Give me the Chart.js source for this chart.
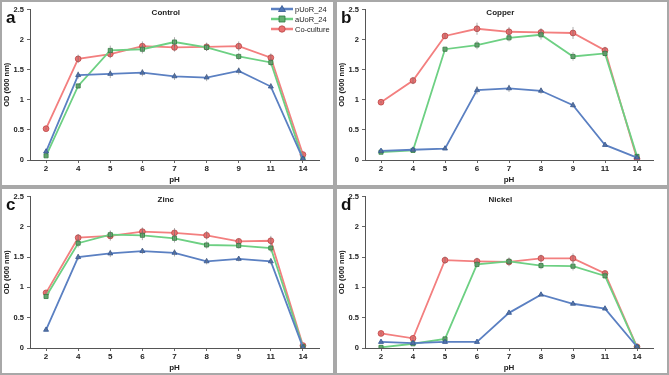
<!DOCTYPE html>
<html>
<head>
<meta charset="utf-8">
<script src="https://cdn.jsdelivr.net/npm/chart.js@4.4.1/dist/chart.umd.min.js"></script>
<style>
  body { margin: 0; background: #fff; }
  #wrap { position: relative; width: 669px; height: 375px; overflow: hidden; }
  .panel { position: absolute; box-sizing: border-box; border: 2px solid #a8a8a8; background: #fff; }
  .panel canvas { display: block; }
</style>
</head>
<body>
<div id="wrap">
  <div class="panel" style="left:0;top:0;width:335px;height:187px"><canvas id="cA"></canvas></div>
  <div class="panel" style="left:335px;top:0;width:334px;height:187px"><canvas id="cB"></canvas></div>
  <div class="panel" style="left:0;top:187px;width:335px;height:188px"><canvas id="cC"></canvas></div>
  <div class="panel" style="left:335px;top:187px;width:334px;height:188px"><canvas id="cD"></canvas></div>
</div>
<script>
// pH categories and tick labels
const phLabels = ["2", "4", "5", "6", "7", "8", "9", "11", "14"];
const yTicks = [0, 0.5, 1, 1.5, 2, 2.5];
const seriesNames = ["pUoR_24", "aUoR_24", "Co-culture"];

// Control
const controlP = [0.14, 1.41, 1.43, 1.45, 1.39, 1.37, 1.48, 1.22, 0.02];
const controlA = [0.07, 1.23, 1.82, 1.84, 1.96, 1.87, 1.72, 1.62, 0.01];
const controlC = [0.52, 1.68, 1.76, 1.89, 1.87, 1.88, 1.89, 1.70, 0.09];
const controlPErr = [0.02, 0.06, 0.07, 0.06, 0.06, 0.06, 0.06, 0.05, 0.01];
const controlAErr = [0.02, 0.04, 0.08, 0.07, 0.08, 0.06, 0.06, 0.06, 0.01];
const controlCErr = [0.02, 0.07, 0.07, 0.08, 0.07, 0.07, 0.08, 0.07, 0.02];

// Copper
const copperP = [0.15, 0.17, 0.19, 1.16, 1.19, 1.15, 0.91, 0.25, 0.04];
const copperA = [0.13, 0.16, 1.84, 1.91, 2.03, 2.08, 1.72, 1.77, 0.06];
const copperC = [0.96, 1.32, 2.06, 2.18, 2.13, 2.12, 2.11, 1.82, 0.02];
const copperPErr = [0.02, 0.02, 0.02, 0.07, 0.06, 0.05, 0.04, 0.02, 0.01];
const copperAErr = [0.02, 0.02, 0.04, 0.07, 0.06, 0.08, 0.07, 0.05, 0.01];
const copperCErr = [0.02, 0.06, 0.04, 0.1, 0.08, 0.07, 0.1, 0.06, 0.01];

// Zinc
const zincP = [0.30, 1.50, 1.56, 1.60, 1.57, 1.43, 1.47, 1.43, 0.01];
const zincA = [0.85, 1.73, 1.87, 1.86, 1.81, 1.70, 1.69, 1.65, 0.02];
const zincC = [0.91, 1.82, 1.85, 1.92, 1.90, 1.86, 1.76, 1.77, 0.04];
const zincPErr = [0.02, 0.05, 0.06, 0.05, 0.06, 0.05, 0.04, 0.05, 0.01];
const zincAErr = [0.02, 0.07, 0.07, 0.08, 0.07, 0.06, 0.05, 0.07, 0.01];
const zincCErr = [0.03, 0.06, 0.08, 0.07, 0.08, 0.07, 0.05, 0.08, 0.01];

// Nickel
const nickelP = [0.10, 0.08, 0.10, 0.10, 0.58, 0.88, 0.73, 0.65, 0.02];
const nickelA = [0.01, 0.07, 0.15, 1.38, 1.43, 1.36, 1.35, 1.19, 0.01];
const nickelC = [0.24, 0.16, 1.45, 1.43, 1.42, 1.48, 1.48, 1.23, 0.02];
const nickelPErr = [0.01, 0.01, 0.01, 0.01, 0.02, 0.02, 0.02, 0.02, 0.01];
const nickelAErr = [0.01, 0.01, 0.02, 0.05, 0.06, 0.06, 0.07, 0.04, 0.01];
const nickelCErr = [0.02, 0.02, 0.06, 0.06, 0.07, 0.06, 0.08, 0.04, 0.01];

const styles = [
  { line: "#5b80c2", fill: "#5076b6", border: "#34558f", shape: "triangle" },
  { line: "#6dd083", fill: "#64b071", border: "#2f7a3f", shape: "rect" },
  { line: "#f37f7f", fill: "#e97070", border: "#b94848", shape: "circle" }
];

const FONT = "Arial, 'Liberation Sans', sans-serif";

// error bars + panel decorations
const extras = {
  id: "extras",
  afterDatasetsDraw(chart) {
    const { ctx, scales: { x, y } } = chart;
    ctx.save();
    ctx.strokeStyle = "rgba(110,110,110,0.55)";
    ctx.lineWidth = 1;
    chart.data.datasets.forEach(ds => {
      ds.data.forEach((v, i) => {
        const e = ds.errors[i];
        const px = x.getPixelForValue(i);
        ctx.beginPath();
        ctx.moveTo(px, y.getPixelForValue(v - e));
        ctx.lineTo(px, y.getPixelForValue(v + e));
        ctx.stroke();
      });
    });
    ctx.restore();
  },
  afterDraw(chart, args, opts) {
    const { ctx, chartArea } = chart;
    ctx.save();
    ctx.fillStyle = "#111";
    ctx.font = "bold 17px " + FONT;
    ctx.textBaseline = "alphabetic";
    ctx.fillText(opts.letter, 4, 21);
    ctx.font = "bold 8px " + FONT;
    ctx.textAlign = "center";
    ctx.fillStyle = "#222";
    ctx.fillText(opts.title, chartArea.left + chartArea.width * 0.47, 13);
    if (opts.legend) {
      ctx.textAlign = "left";
      ctx.textBaseline = "middle";
      chart.data.datasets.forEach((ds, i) => {
        const ly = 7 + i * 10;
        const lx = chartArea.right - 48;
        ctx.strokeStyle = styles[i].line;
        ctx.lineWidth = 2.5;
        ctx.beginPath();
        ctx.moveTo(lx, ly);
        ctx.lineTo(lx + 22, ly);
        ctx.stroke();
        ctx.fillStyle = styles[i].fill;
        ctx.strokeStyle = styles[i].border;
        ctx.lineWidth = 0.8;
        ctx.beginPath();
        const cx = lx + 11;
        if (styles[i].shape === "triangle") {
          ctx.moveTo(cx, ly - 3.5); ctx.lineTo(cx + 3.5, ly + 2.5); ctx.lineTo(cx - 3.5, ly + 2.5); ctx.closePath();
        } else if (styles[i].shape === "rect") {
          ctx.rect(cx - 3, ly - 3, 6, 6);
        } else {
          ctx.arc(cx, ly, 3.2, 0, Math.PI * 2);
        }
        ctx.fill(); ctx.stroke();
        ctx.fillStyle = "#222";
        ctx.font = "7.5px " + FONT;
        ctx.fillText(ds.label, lx + 24, ly + 0.5);
      });
    }
    ctx.restore();
  }
};

function makeChart(id, w, h, padTop, letter, title, series, errs, legend) {
  const el = document.getElementById(id);
  el.width = w; el.height = h;
  el.style.width = w + "px"; el.style.height = h + "px";
  new Chart(el.getContext("2d"), {
    type: "line",
    data: {
      labels: phLabels,
      datasets: series.map((d, i) => ({
        label: seriesNames[i],
        data: d,
        errors: errs[i],
        borderColor: styles[i].line,
        borderWidth: 1.8,
        backgroundColor: styles[i].fill,
        pointBackgroundColor: styles[i].fill,
        pointBorderColor: styles[i].border,
        pointBorderWidth: 0.8,
        pointStyle: styles[i].shape,
        pointRadius: 2.9,
        tension: 0,
        fill: false
      }))
    },
    options: {
      responsive: false,
      animation: false,
      layout: { padding: { top: padTop, right: 14, left: 0, bottom: 0 } },
      plugins: {
        legend: { display: false },
        tooltip: { enabled: false },
        extras: { letter, title, legend }
      },
      scales: {
        x: {
          type: "category",
          offset: true,
          afterFit: s => { s.height = 25; },
          grid: { display: true, drawOnChartArea: false, tickLength: 3, color: "#666" },
          border: { color: "#555", width: 1 },
          ticks: { color: "#222", font: { size: 8, weight: "bold", family: FONT }, padding: 1, maxRotation: 0 },
          title: { display: true, text: "pH", color: "#222", font: { size: 8, weight: "bold", family: FONT }, padding: { top: 0, bottom: 0 } }
        },
        y: {
          min: yTicks[0],
          max: yTicks[yTicks.length - 1],
          afterBuildTicks: s => { s.ticks = yTicks.map(v => ({ value: v })); },
          afterFit: s => { s.width = 28; },
          grid: { display: true, drawOnChartArea: false, tickLength: 3, color: "#666" },
          border: { color: "#555", width: 1 },
          ticks: { color: "#222", font: { size: 7.5, weight: "bold", family: FONT }, padding: 3, callback: v => String(v) },
          title: { display: true, text: "OD (600 nm)", color: "#222", font: { size: 7.5, weight: "bold", family: FONT }, padding: 0 }
        }
      }
    },
    plugins: [extras]
  });
}

makeChart("cA", 331, 183, 4, "a", "Control", [controlP, controlA, controlC], [controlPErr, controlAErr, controlCErr], true);
makeChart("cB", 330, 183, 4, "b", "Copper", [copperP, copperA, copperC], [copperPErr, copperAErr, copperCErr], false);
makeChart("cC", 331, 184, 7, "c", "Zinc", [zincP, zincA, zincC], [zincPErr, zincAErr, zincCErr], false);
makeChart("cD", 330, 184, 7, "d", "Nickel", [nickelP, nickelA, nickelC], [nickelPErr, nickelAErr, nickelCErr], false);
</script>
</body>
</html>
